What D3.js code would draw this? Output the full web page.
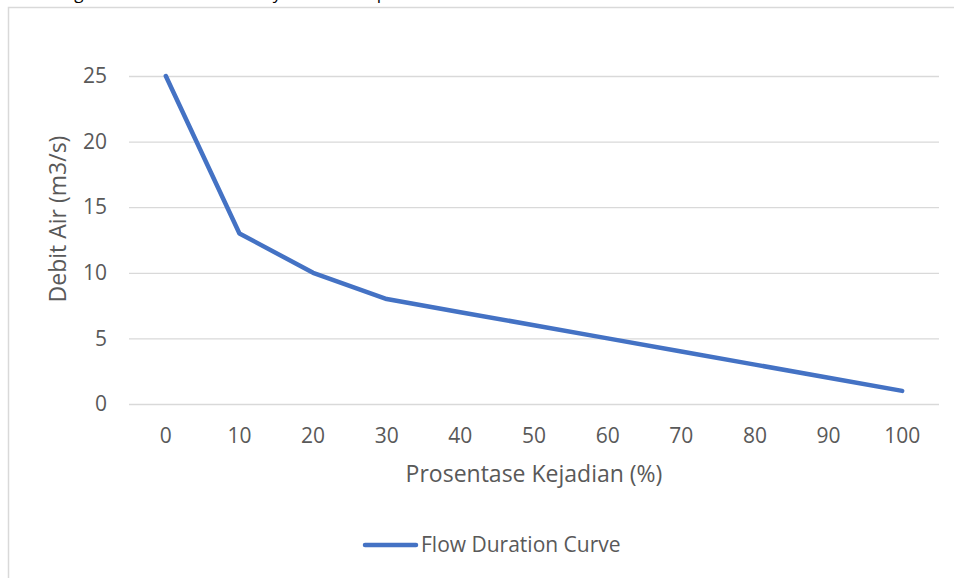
<!DOCTYPE html>
<html><head><meta charset="utf-8">
<script src="https://cdn.jsdelivr.net/npm/d3@7"></script>
<style>body{margin:0;background:#fff}svg{display:block}</style>
</head><body>
<script>
const categories = ["0","10","20","30","40","50","60","70","80","90","100"];
const flowValues = [25,13,10,8,7,6,5,4,3,2,1];
const yTicks = [0,5,10,15,20,25];
const seriesName = "Flow Duration Curve";
const xTitle = "Prosentase Kejadian (%)";
const yTitle = "Debit Air (m3/s)";

const W = 954, H = 578;
const font = "'Open Sans', sans-serif";
const txt = "#595959";
const svg = d3.select("body").append("svg").attr("width", W).attr("height", H);

// partially visible caption above the chart (only descenders show)
const cap = [["Diagram", 4, 87], ["Harian yaitu", 7, 277], ["Setiap", 5, 382]];
cap.forEach(([s, i, tx]) => {
  const t = svg.append("text").attr("y", -1).attr("font-family", font).attr("font-size", 17).attr("fill", "#000").text(s);
  const p = t.node().getStartPositionOfChar(i).x;
  const w = t.node().getExtentOfChar(i).width;
  t.attr("x", tx - p - w / 2);
});

// chart border
svg.append("path").attr("d", `M8.5,${H}V7.5H${W}`).attr("fill", "none").attr("stroke", "#d9d9d9").attr("stroke-width", 1.5);

const x = d3.scaleBand().domain(categories).range([129, 939]);
const y = d3.scaleLinear().domain([0, 25]).range([404, 76]);

const gy = svg.append("g").attr("transform", "translate(129,0)")
  .call(d3.axisLeft(y).tickValues(yTicks).tickSize(-810).tickPadding(22));
gy.select(".domain").remove();
gy.selectAll("line").attr("stroke", "#d9d9d9").attr("stroke-width", 1.3);
gy.selectAll("text").attr("font-family", font).attr("font-size", 21).attr("fill", txt);

const gx = svg.append("g").attr("transform", "translate(0,404)")
  .call(d3.axisBottom(x).tickSize(0).tickPadding(24));
gx.select(".domain").remove();
gx.selectAll("text").attr("font-family", font).attr("font-size", 21).attr("fill", txt);

const line = d3.line().x((d, i) => x(categories[i]) + x.bandwidth() / 2).y(d => y(d));
svg.append("path").datum(flowValues).attr("d", line).attr("fill", "none")
  .attr("stroke", "#4472C4").attr("stroke-width", 4.5).attr("stroke-linecap", "round").attr("stroke-linejoin", "round");

svg.append("text").attr("x", 534).attr("y", 482).attr("text-anchor", "middle")
  .attr("font-family", font).attr("font-size", 23).attr("fill", txt).text(xTitle);
svg.append("text").attr("transform", "translate(66,219) rotate(-90)").attr("text-anchor", "middle")
  .attr("font-family", font).attr("font-size", 23).attr("fill", txt).text(yTitle);

// legend
const lg = svg.append("g");
lg.append("line").attr("x1", 365).attr("x2", 416).attr("y1", 545).attr("y2", 545)
  .attr("stroke", "#4472C4").attr("stroke-width", 4.5).attr("stroke-linecap", "round");
lg.append("text").attr("x", 421).attr("y", 545).attr("dy", "0.35em")
  .attr("font-family", font).attr("font-size", 21).attr("fill", txt).text(seriesName);
</script>
</body></html>
